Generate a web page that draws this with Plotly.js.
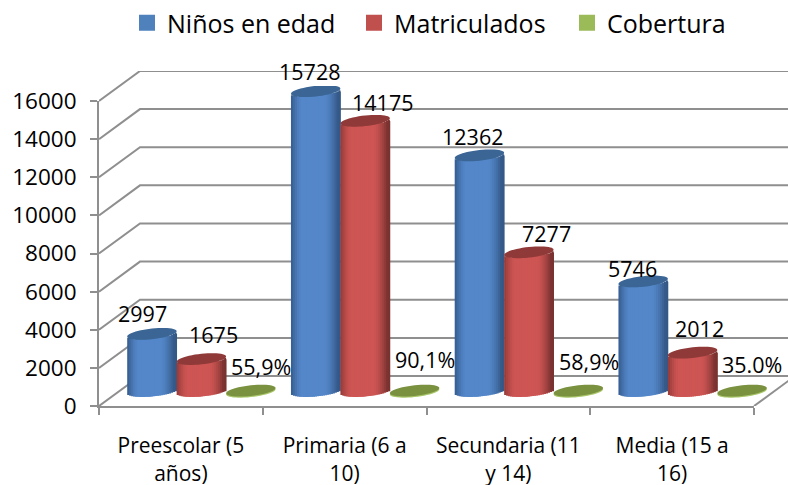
<!DOCTYPE html>
<html><head><meta charset="utf-8">
<script src="https://cdn.plot.ly/plotly-3.0.1.min.js"></script>
<style>html,body{margin:0;padding:0;background:#fff}#c{width:788px;height:485px}</style>
</head><body><div id="c"></div>
<script>
const categories = ['Preescolar (5<br>años)','Primaria (6 a<br>10)','Secundaria (11<br>y 14)','Media (15 a<br>16)'];
const ninos = [2997,15728,12362,5746];
const matriculados = [1675,14175,7277,2012];
const cobertura = [0.559,0.901,0.589,0.350];
const coberturaLabels = ['55,9%','90,1%','58,9%','35.0%'];
const yTicks = [0,2000,4000,6000,8000,10000,12000,14000,16000];

// style / geometry
const W=788,H=485,FONT='"Open Sans", sans-serif',FS=21;
const px=(v)=>v/W, py=(v)=>1-v/H;
const L=99,R=754,T=101,B=406,DX=20.5,DY=15;
const ux=(R-L)/4, k=(B-T)/16000;
const dxU=DX/ux, dyU=DY/k;
const half=0.151, shift=0.302, bE=5.3/k, sE=2.6/k, N=25;
const grid='#8f8f8f';
const idx=[0,1,2,3];

function lerp(a,b,t){return a.map((c,i)=>Math.round(c+(b[i]-c)*t));}
function shade(u,d,m,e){
  const t=Math.min(1,Math.abs(u+0.1));
  const c=t<0.45?m:lerp(m,(u<0?d:e),Math.pow((t-0.45)/0.55,1.5));
  return 'rgb('+c.join(',')+')';
}
const traces=[];
// axis anchor
traces.push({x:categories,y:[0,0,0,0],xaxis:'x',yaxis:'y',type:'scatter',mode:'markers',marker:{opacity:0},showlegend:false,hoverinfo:'skip'});
// walls
const x2max=-0.5+(W-L-DX)/ux;
const wx=[],wy=[];
yTicks.forEach(v=>{wx.push(-0.5-dxU,-0.5+dxU,x2max,null);wy.push(v-dyU,v+dyU,v+dyU,null);});
wx.push(3.5-dxU,3.5+dxU,null);wy.push(-dyU,dyU,null);
traces.push({x:wx,y:wy,xaxis:'x2',yaxis:'y2',type:'scatter',mode:'lines',line:{color:grid,width:2},cliponaxis:false,showlegend:false,hoverinfo:'skip'});
// legend-carrying bars
function legendBar(name,vals,off,color,lw){
  traces.push({name,x:idx,y:vals,xaxis:'x3',yaxis:'y3',type:'bar',offset:off-0.09,width:0.18,base:0,cliponaxis:false,legendwidth:lw,
    marker:{color,line:{color,width:4}},hoverinfo:'skip'});
}
legendBar('Niños en edad',ninos,-shift,'#4f81bd',182);
legendBar('Matriculados',matriculados,0,'#c0504d',168);
legendBar('Cobertura',cobertura,shift,'#9bbb59',120);
// cylinder strips: painted left to right, each one overlapping the next so no seams show
function cylinder(vals,off,d,m,e){
  for(let i=0;i<N;i++){
    const u=-1+(2*i+1)/N, w=2*half/N;
    const lw=i<N-1?w*2.2:w;
    traces.push({x:idx,y:vals,xaxis:'x3',yaxis:'y3',type:'bar',showlegend:false,hoverinfo:'skip',cliponaxis:false,
      base:sE*u-bE*Math.sqrt(1-u*u),offset:off+half*u-w/2,width:lw,
      marker:{color:shade(u,d,m,e),line:{width:0}}});
  }
}
cylinder(ninos,-shift,[41,74,118],[84,135,201],[52,88,135]);
cylinder(matriculados,0,[128,48,46],[205,85,83],[122,50,48]);
// elliptical caps
function ell(cx,v,dyp){
  let p='';
  for(let i=0;i<48;i++){
    const t=2*Math.PI*i/48,c=Math.cos(t),s=Math.sin(t);
    p+=(i?'L':'M')+(cx+half*c)+','+(v+(dyp||0)+sE*c+bE*s);
  }
  return p+'Z';
}
const shapes=[];
idx.forEach(i=>{
  shapes.push({type:'path',xref:'x3',yref:'y3',path:ell(i-shift,ninos[i]),fillcolor:'#3a6594',line:{width:0},layer:'above'});
  shapes.push({type:'path',xref:'x3',yref:'y3',path:ell(i,matriculados[i]),fillcolor:'#8f3a38',line:{width:0},layer:'above'});
  shapes.push({type:'path',xref:'x3',yref:'y3',path:ell(i+shift,cobertura[i],-0.8/k),fillcolor:'#a9c76a',line:{width:0},layer:'above'});
  shapes.push({type:'path',xref:'x3',yref:'y3',path:ell(i+shift,cobertura[i],0.4/k),fillcolor:'#7a9140',line:{width:0},layer:'above'});
});
// value labels
const shiftN=[[-9,20],[-6,20],[-7,19],[-11,13]];
const shiftM=[[12,25],[17,18],[18,19],[7,24]];
const shiftC=[[10,24],[10,31],[11,29],[10,26]];
const ann=[];
function lab(x,y,text,s){ann.push({xref:'x3',yref:'y3',x,y,text:String(text),showarrow:false,xshift:s[0],yshift:s[1],xanchor:'center',yanchor:'middle',font:{family:FONT,size:21.5,color:'#000'}});}
idx.forEach(i=>{
  lab(i-shift,ninos[i],ninos[i],shiftN[i]);
  lab(i,matriculados[i],matriculados[i],shiftM[i]);
  lab(i+shift,cobertura[i],coberturaLabels[i],shiftC[i]);
});
const tf={family:FONT,size:FS,color:'#000'};
const layout={
  width:W,height:H,margin:{l:0,r:0,t:0,b:0},paper_bgcolor:'#fff',plot_bgcolor:'rgba(0,0,0,0)',
  barmode:'overlay',hovermode:false,showlegend:true,font:tf,
  legend:{orientation:'h',x:px(127),y:1,xanchor:'left',yanchor:'top',font:{family:FONT,size:25,color:'#000'},
    entrywidthmode:'pixels',bgcolor:'rgba(0,0,0,0)',traceorder:'normal'},
  xaxis:{domain:[px(L),px(R)],type:'category',categoryorder:'array',categoryarray:categories,range:[-0.5,3.5],tickson:'boundaries',
    ticks:'outside',ticklen:7,tickwidth:2,tickcolor:grid,showline:true,linecolor:grid,linewidth:2,showgrid:false,zeroline:false,
    tickfont:tf,tickangle:0,anchor:'y',ticklabelstandoff:20,fixedrange:true},
  yaxis:{domain:[py(B),py(T)],range:[0,16000],tickvals:yTicks,ticktext:yTicks.map(String),ticks:'outside',ticklen:7,tickwidth:2,tickcolor:grid,
    showline:true,linecolor:grid,linewidth:2,showgrid:false,zeroline:false,tickfont:{family:FONT,size:22.5,color:'#000'},anchor:'x',ticklabelstandoff:9,fixedrange:true},
  xaxis2:{domain:[px(L),1],range:[-0.5-dxU,x2max],visible:false,anchor:'y2',fixedrange:true},
  yaxis2:{domain:[py(B),py(T-2*DY)],range:[-dyU,16000+dyU],visible:false,anchor:'x2',fixedrange:true},
  xaxis3:{domain:[px(L+DX),px(R+DX)],range:[-0.5,3.5],visible:false,anchor:'y3',fixedrange:true},
  yaxis3:{domain:[py(B),py(T-DY)],range:[-dyU,16000],visible:false,anchor:'x3',fixedrange:true},
  shapes,annotations:ann
};
Plotly.newPlot('c',traces,layout,{displayModeBar:false,staticPlot:true});
</script></body></html>
